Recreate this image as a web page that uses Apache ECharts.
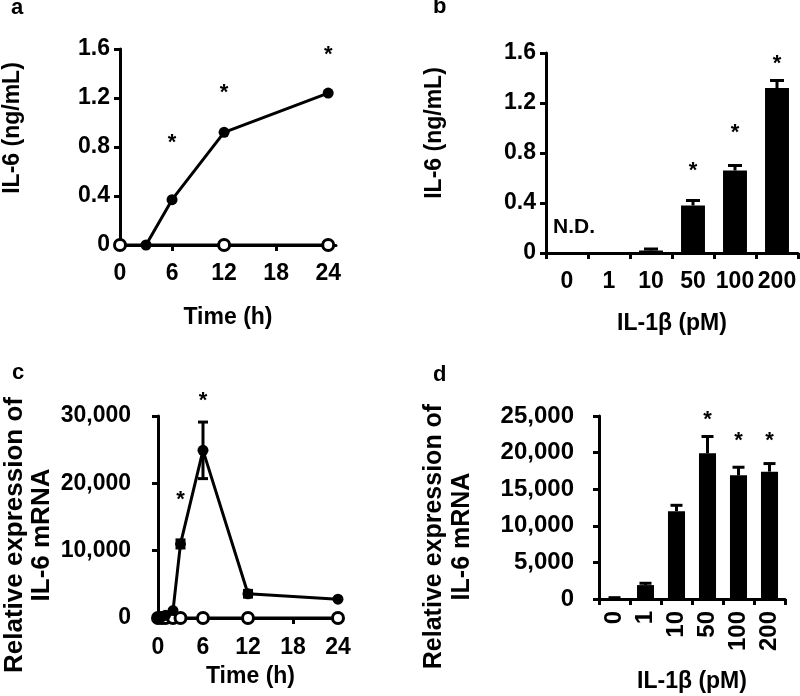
<!DOCTYPE html>
<html><head><meta charset="utf-8">
<script src="https://cdn.jsdelivr.net/npm/echarts@6/dist/echarts.min.js"></script>
<style>html,body{margin:0;padding:0;background:#fff}#c{width:800px;height:696px}</style>
</head><body><div id="c"></div>
<script>
// ---------- Panel a: IL-6 protein vs time ----------
const aTimeFilled = [3, 6, 12, 24];
const aValFilled = [0, 0.37, 0.92, 1.24];
const aTimeOpen = [0, 12, 24];
const aValOpen = [0, 0, 0];
const aSigTime = [6, 12, 24];
const aSigVal = [0.87, 1.28, 1.59];
const aXTicks = [0, 6, 12, 18, 24];

// ---------- Panel b: IL-6 protein vs IL-1β dose ----------
const bCats = ['0', '1', '10', '50', '100', '200'];
const bVals = [0, 0, 0.02, 0.38, 0.66, 1.32];
const bErr = [0, 0, 0.012, 0.04, 0.04, 0.06];
const bSig = [null, null, null, 0.70, 1.0, 1.55];

// ---------- Panel c: IL-6 mRNA vs time ----------
const cTimeFilled = [0, 0.5, 1, 2, 3, 6, 12, 24];
const cValFilled = [0, 200, 400, 1100, 11000, 24900, 3600, 2800];
const cErrFilled = [0, 0, 0, 0, 600, 4200, 500, 0];
const cTimeOpen = [0, 0.5, 1, 2, 3, 6, 12, 24];
const cValOpen = [0, 0, 0, 0, 0, 0, 0, 0];
const cSigTime = [3, 6];
const cSigVal = [18300, 33000];
const cXTicks = [0, 6, 12, 18, 24];

// ---------- Panel d: IL-6 mRNA vs IL-1β dose ----------
const dCats = ['0', '1', '10', '50', '100', '200'];
const dVals = [100, 1900, 12000, 19900, 16900, 17400];
const dErr = [80, 250, 800, 2300, 1100, 1100];
const dSig = [null, null, null, 25200, 22300, 22300];

const FONT = "'Liberation Sans', Arial, sans-serif";
const BLACK = '#000';

function axisBase(fs) {
  return {
    axisLine: { show: true, lineStyle: { color: BLACK, width: 3 } },
    axisTick: { show: true, inside: false, length: 6, lineStyle: { color: BLACK, width: 3 } },
    axisLabel: { color: BLACK, fontSize: fs, fontWeight: 'bold', fontFamily: FONT },
    splitLine: { show: false },
    nameTextStyle: { color: BLACK, fontSize: 23, fontWeight: 'bold', fontFamily: FONT }
  };
}
function merge(a, b) {
  const o = Object.assign({}, a);
  for (const k in b) {
    if (b[k] && typeof b[k] === 'object' && !Array.isArray(b[k]) && o[k] && typeof o[k] === 'object') o[k] = merge(o[k], b[k]);
    else o[k] = b[k];
  }
  return o;
}
const zip = (xs, ys) => xs.map((x, i) => [x, ys[i]]);

function errSeries(ax, pts, both, cap) {
  return {
    type: 'custom', xAxisIndex: ax, yAxisIndex: ax, z: 3, clip: false,
    data: pts,
    renderItem(params, api) {
      const x = api.value(0), v = api.value(1), e = api.value(2);
      if (!e) return;
      const top = api.coord([x, v + e]);
      const base = api.coord([x, both ? v - e : v]);
      const st = { stroke: BLACK, lineWidth: 3 };
      const ch = [
        { type: 'line', shape: { x1: top[0], y1: top[1], x2: base[0], y2: base[1] }, style: st },
        { type: 'line', shape: { x1: top[0] - cap, y1: top[1], x2: top[0] + cap, y2: top[1] }, style: st }
      ];
      if (both) ch.push({ type: 'line', shape: { x1: base[0] - cap, y1: base[1], x2: base[0] + cap, y2: base[1] }, style: st });
      return { type: 'group', children: ch };
    }
  };
}
function starSeries(ax, pts) {
  return {
    type: 'custom', xAxisIndex: ax, yAxisIndex: ax, z: 5, clip: false,
    data: pts.filter(p => p[1] != null),
    renderItem(params, api) {
      const p = api.coord([api.value(0), api.value(1)]);
      return { type: 'text', x: p[0], y: p[1] + 5,
        style: { text: '*', font: 'bold 22px ' + FONT, fill: BLACK, align: 'center', verticalAlign: 'middle' } };
    }
  };
}

const grids = [
  { left: 120, top: 49, width: 216, height: 196 },
  { left: 546, top: 53, width: 252, height: 200 },
  { left: 158, top: 416, width: 185, height: 202 },
  { left: 599, top: 416, width: 186, height: 183 }
].map(g => Object.assign({ outerBoundsMode: 'none', containLabel: false }, g));

const xAxes = [
  merge(axisBase(23), { type: 'value', gridIndex: 0, min: 0, max: 24.9,
    axisTick: { customValues: aXTicks }, axisLabel: { customValues: aXTicks, margin: 17 },
    name: 'Time (h)', nameLocation: 'middle', nameGap: 61 }),
  merge(axisBase(23), { type: 'category', gridIndex: 1, data: bCats, boundaryGap: true,
    axisLabel: { margin: 17, interval: 0 }, axisTick: { interval: 0 },
    name: 'IL-1β (pM)', nameLocation: 'middle', nameGap: 59 }),
  merge(axisBase(23), { type: 'value', gridIndex: 2, min: 0, max: 24.67,
    axisTick: { customValues: cXTicks }, axisLabel: { customValues: cXTicks, margin: 18 },
    name: 'Time (h)', nameLocation: 'middle', nameGap: 47 }),
  merge(axisBase(24), { type: 'category', gridIndex: 3, data: dCats, boundaryGap: true,
    axisLabel: { rotate: 90, margin: 12, interval: 0 }, axisTick: { interval: 0 },
    name: 'IL-1β (pM)', nameLocation: 'middle', nameGap: 71 })
];
const yAxes = [
  merge(axisBase(23), { type: 'value', gridIndex: 0, min: 0, max: 1.6, interval: 0.4,
    axisLabel: { margin: 10 }, name: 'IL-6 (ng/mL)', nameLocation: 'middle', nameRotate: 90, nameGap: 96,
    nameTextStyle: { padding: [0, 0, 0, 38] } }),
  merge(axisBase(23), { type: 'value', gridIndex: 1, min: 0, max: 1.6, interval: 0.4,
    axisLabel: { margin: 10 }, name: 'IL-6 (ng/mL)', nameLocation: 'middle', nameRotate: 90, nameGap: 100,
    nameTextStyle: { padding: [0, 0, 0, 40] } }),
  merge(axisBase(23), { type: 'value', gridIndex: 2, min: 0, max: 30000, interval: 10000,
    axisLabel: { margin: 27 }, name: 'Relative expression of\nIL-6 mRNA', nameLocation: 'middle', nameRotate: 90, nameGap: 103,
    nameTextStyle: { lineHeight: 27, fontSize: 26, padding: [0, 36, 0, 0] } }),
  merge(axisBase(24), { type: 'value', gridIndex: 3, min: 0, max: 25000, interval: 5000,
    axisLabel: { margin: 25 }, name: 'Relative expression of\nIL-6 mRNA', nameLocation: 'middle', nameRotate: 90, nameGap: 123,
    nameTextStyle: { lineHeight: 28, fontSize: 25, padding: [0, 58, 0, 0] } })
];

const openStyle = { color: '#fff', borderColor: BLACK, borderWidth: 3 };
const series = [
  // a
  { type: 'line', xAxisIndex: 0, yAxisIndex: 0, data: zip(aTimeFilled, aValFilled), symbol: 'circle', symbolSize: 11,
    itemStyle: { color: BLACK }, lineStyle: { color: BLACK, width: 3 }, z: 3 },
  { type: 'line', xAxisIndex: 0, yAxisIndex: 0, data: zip(aTimeOpen, aValOpen), symbol: 'circle', symbolSize: 11,
    itemStyle: openStyle, lineStyle: { color: BLACK, width: 3 }, z: 4 },
  starSeries(0, zip(aSigTime, aSigVal)),
  // b
  { type: 'bar', xAxisIndex: 1, yAxisIndex: 1, data: bVals, barWidth: '57%', itemStyle: { color: BLACK } },
  errSeries(1, bVals.map((v, i) => [i, v, bErr[i]]), false, 7),
  starSeries(1, bSig.map((v, i) => [i, v])),
  // c
  { type: 'line', xAxisIndex: 2, yAxisIndex: 2, data: zip(cTimeOpen, cValOpen), symbol: 'circle', symbolSize: 11,
    itemStyle: openStyle, lineStyle: { color: BLACK, width: 3 }, z: 3 },
  errSeries(2, cTimeFilled.map((t, i) => [t, cValFilled[i], cErrFilled[i]]), true, 5),
  { type: 'line', xAxisIndex: 2, yAxisIndex: 2, data: zip(cTimeFilled, cValFilled), symbol: 'circle', symbolSize: 11,
    itemStyle: { color: BLACK }, lineStyle: { color: BLACK, width: 3 }, z: 4 },
  starSeries(2, zip(cSigTime, cSigVal)),
  // d
  { type: 'bar', xAxisIndex: 3, yAxisIndex: 3, data: dVals, barWidth: '55%', itemStyle: { color: BLACK } },
  errSeries(3, dVals.map((v, i) => [i, v, dErr[i]]), false, 6),
  starSeries(3, dSig.map((v, i) => [i, v]))
];

const letterStyle = { font: 'bold 22px ' + FONT, fill: BLACK };
const chart = echarts.init(document.getElementById('c'), null, { renderer: 'canvas' });
chart.setOption({
  backgroundColor: '#fff',
  animation: false,
  grid: grids, xAxis: xAxes, yAxis: yAxes, series: series,
  graphic: [
    { type: 'text', left: 11, top: -3, style: Object.assign({ text: 'a' }, letterStyle) },
    { type: 'text', left: 433, top: -4, style: Object.assign({ text: 'b' }, letterStyle) },
    { type: 'text', left: 12, top: 362, style: Object.assign({ text: 'c' }, letterStyle) },
    { type: 'text', left: 433, top: 364, style: Object.assign({ text: 'd' }, letterStyle) },
    { type: 'text', left: 553, top: 217, style: { text: 'N.D.', font: 'bold 21px ' + FONT, fill: BLACK } }
  ]
});
</script></body></html>
